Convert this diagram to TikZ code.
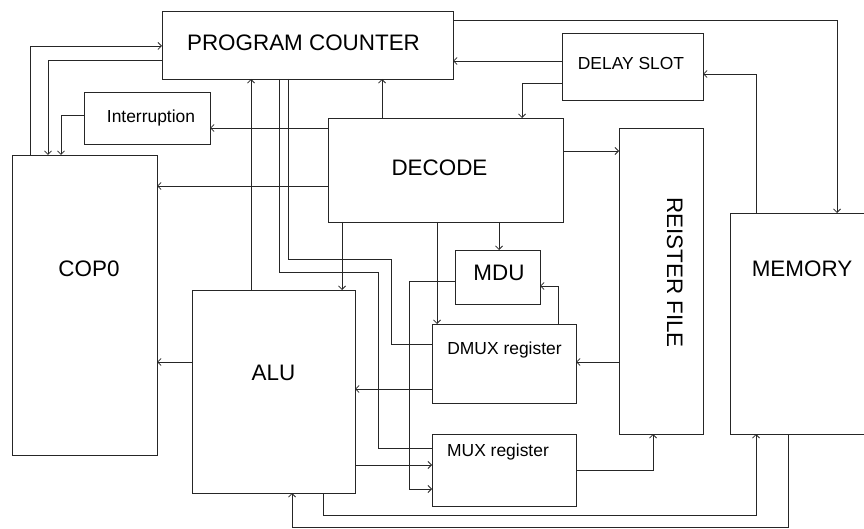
\documentclass[tikz,border=0pt]{standalone}
\usepackage{fontspec}
\setmainfont{Liberation Sans}
\usetikzlibrary{arrows.meta}

\tikzset{
    blk/.style={draw=black!85, line width=0.8bp, inner sep=0pt, outer sep=0pt},
    big/.style={font=\fontsize{22.5}{27}\selectfont, inner sep=0pt, anchor=base},
    small/.style={font=\fontsize{17.5}{21}\selectfont, inner sep=0pt, anchor=base},
    ln/.style={draw=black!85, line width=0.8bp},
    arr/.style={ln, -{Straight Barb[length=3.5bp, width=7bp]}}
}

\begin{document}
\begin{tikzpicture}[x=1bp, y=-1bp]
    \useasboundingbox (0,0) rectangle (864,529);

    % Blocks
    \node[blk, minimum width=291bp, minimum height=68bp] (pc) at (307.5,45) {};
    \node[blk, minimum width=126bp, minimum height=52bp] (intr) at (147,118) {};
    \node[blk, minimum width=145bp, minimum height=300bp] (cop) at (84.5,305) {};
    \node[blk, minimum width=141bp, minimum height=67bp] (dslot) at (632.5,66.5) {};
    \node[blk, minimum width=235bp, minimum height=104bp] (dec) at (445.5,170) {};
    \node[blk, minimum width=84bp, minimum height=306bp] (rf) at (661,281) {};
    \node[blk, minimum width=140bp, minimum height=221bp] (mem) at (800,323.5) {};
    \node[blk, minimum width=85bp, minimum height=54bp] (mdu) at (497.5,277) {};
    \node[blk, minimum width=144bp, minimum height=79bp] (dmux) at (504,363.5) {};
    \node[blk, minimum width=144bp, minimum height=72bp] (mux) at (504,470) {};
    \node[blk, minimum width=163bp, minimum height=203bp] (alu) at (273.5,391.5) {};

    % Block texts
    \node[big] (pct) at (303.5,51) {PROGRAM COUNTER};
    \node[small] (intrt) at (151,123) {Interruption};
    \node[big] (copt) at (89,277) {COP0};
    \node[small] (dslott) at (631,70) {DELAY SLOT};
    \node[big] (dect) at (439.5,176) {DECODE};
    \node[big, rotate=-90] (rft) at (667,272.5) {REISTER FILE};
    \node[big] (memt) at (802,277) {MEMORY};
    \node[big] (mdut) at (499,281) {MDU};
    \node[small] (dmuxt) at (504.5,354) {DMUX register};
    \node[small] (muxt) at (498,456) {MUX register};
    \node[big] (alut) at (273.5,380) {ALU};

    % COP0 and interruption
    \draw[arr] (cop.north -| 30,0) |- (pc.west |- 0,46);
    \draw[arr] (pc.west |- 0,60) -| (cop.north -| 48,0);
    \draw[arr] (intr.west |- 0,115) -| (cop.north -| 61,0);
    \draw[arr] (dec.west |- 0,128) -- (intr.east |- 0,128);
    \draw[arr] (dec.west |- 0,186) -- (cop.east |- 0,186);
    \draw[arr] (alu.west |- 0,362) -- (cop.east |- 0,362);

    % Program counter
    \draw[arr] (alu.north -| 251,0) -- (pc.south -| 251,0);
    \draw[arr] (dec.north -| 382,0) -- (pc.south -| 382,0);
    \draw[arr] (dslot.west |- 0,61) -- (pc.east |- 0,61);
    \draw[arr] (dslot.west |- 0,83) -| (dec.north -| 522,0);
    \draw[arr] (pc.east |- 0,20) -| (mem.north -| 837,0);
    \draw[arr] (mem.north -| 756,0) |- (dslot.east |- 0,74);
    \draw[ln] (pc.south -| 288,0) |- (391,259) |- (dmux.west |- 0,344);
    \draw[ln] (pc.south -| 279,0) |- (378,272) |- (mux.west |- 0,448);

    % Decode
    \draw[arr] (dec.east |- 0,151) -- (rf.west |- 0,151);
    \draw[arr] (dec.south -| 342,0) -- (alu.north -| 342,0);
    \draw[arr] (dec.south -| 437,0) -- (dmux.north -| 437,0);
    \draw[arr] (dec.south -| 499,0) -- (mdu.north -| 499,0);

    % Registers, MDU and ALU
    \draw[arr] (mdu.west |- 0,281) -| (409,489) -- (mux.west |- 0,489);
    \draw[arr] (alu.east |- 0,465) -- (mux.west |- 0,465);
    \draw[arr] (dmux.west |- 0,389) -- (alu.east |- 0,389);
    \draw[arr] (dmux.north -| 558,0) |- (mdu.east |- 0,286);
    \draw[arr] (rf.west |- 0,362) -- (dmux.east |- 0,362);
    \draw[arr] (mux.east |- 0,470) -| (rf.south -| 653,0);

    % Memory
    \draw[arr] (alu.south -| 323,0) |- (756,515) -- (mem.south -| 756,0);
    \draw[arr] (mem.south -| 788,0) |- (292,527.5) -- (alu.south -| 292,0);
\end{tikzpicture}
\end{document}
